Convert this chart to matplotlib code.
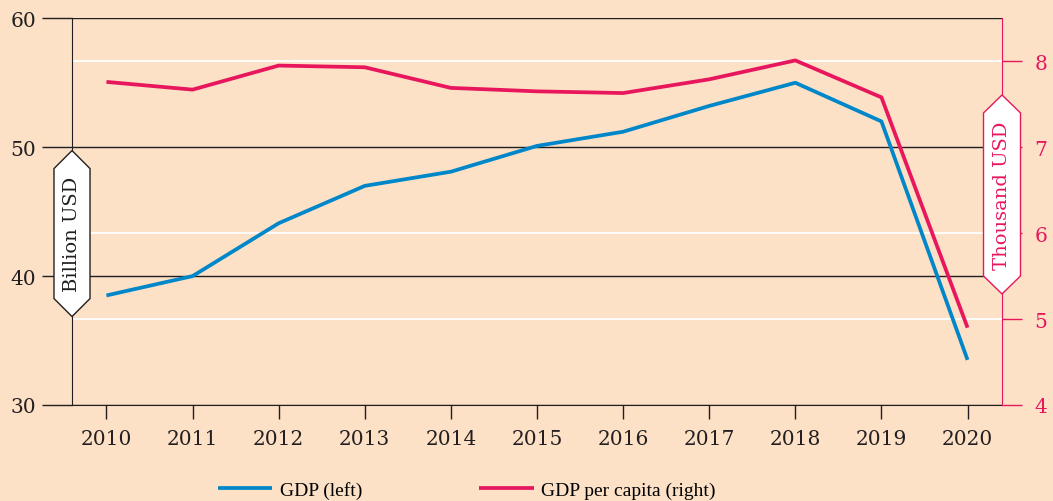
import matplotlib
matplotlib.use("Agg")
import matplotlib.pyplot as plt
import matplotlib.transforms as mtransforms
from matplotlib.patches import Polygon
from matplotlib.lines import Line2D

years = [2010, 2011, 2012, 2013, 2014, 2015, 2016, 2017, 2018, 2019, 2020]
gdp = [38.5, 40.0, 44.1, 47.0, 48.1, 50.1, 51.2, 53.2, 55.0, 52.0, 33.5]
gdp_per_capita = [7.76, 7.67, 7.95, 7.93, 7.69, 7.65, 7.63, 7.79, 8.01, 7.58, 4.90]
left_ticks = [30, 40, 50, 60]
right_ticks = [4, 5, 6, 7, 8]
white_lines = [5, 6, 8]

BG = "#fce1c6"
BLUE = "#0087c9"
PINK = "#e8175d"
INK = "#231f20"

plt.rcParams["font.family"] = ["DejaVu Serif"]
TICK_FS = 14.5

W, H = 1053, 502
fig = plt.figure(figsize=(W / 100, H / 100), dpi=100, facecolor=BG)
ax = fig.add_axes([72 / W, 1 - 406 / H, 930 / W, 386.7 / H])
ax.set_facecolor(BG)
ax2 = ax.twinx()

# right-axis white guide lines, drawn behind the data
blend2 = mtransforms.blended_transform_factory(ax.transAxes, ax2.transData)
for v in white_lines:
    ax.add_line(Line2D([0, 1], [v, v], transform=blend2, color="white", lw=1.3, zorder=0.5))

l1, = ax.plot(years, gdp, color=BLUE, lw=2.7, solid_capstyle="butt", zorder=3, label="GDP (left)")
l2, = ax2.plot(years, gdp_per_capita, color=PINK, lw=2.7, solid_capstyle="butt", zorder=3,
               label="GDP per capita (right)")

ax.set_xlim(2009.6, 2020.4)
ax.set_ylim(30, 60)
ax2.set_ylim(4, 8.5)

ax.set_xticks(years)
ax.set_yticks(left_ticks)
ax2.set_yticks(right_ticks)

ax.grid(axis="y", color=INK, lw=1)
ax.set_axisbelow(True)
ax.tick_params(axis="y", length=21.6, width=1, color=INK, pad=4, labelsize=TICK_FS, labelcolor=INK)
ax.tick_params(axis="x", length=10, width=1, color=INK, pad=7.5, labelsize=TICK_FS, labelcolor=INK)
ax2.tick_params(axis="y", length=14.4, width=1, color=PINK, pad=9, labelsize=TICK_FS, labelcolor=PINK)

for s in ["top", "right"]:
    ax.spines[s].set_visible(False)
ax.spines["left"].set_color(INK)
ax.spines["bottom"].set_color(INK)
for s in ["top", "left", "bottom"]:
    ax2.spines[s].set_visible(False)
ax2.spines["right"].set_color(PINK)


def tag(axis_x, yval, yax, w, h, tip, text, edge, color):
    trans = mtransforms.blended_transform_factory(ax.transAxes, yax.transData)
    shift = mtransforms.ScaledTranslation(axis_x, yval, trans)
    verts = [(0, h / 2), (w / 2, h / 2 - tip), (w / 2, -h / 2 + tip),
             (0, -h / 2), (-w / 2, -h / 2 + tip), (-w / 2, h / 2 - tip)]
    poly = Polygon(verts, closed=True, transform=mtransforms.Affine2D() + shift,
                   facecolor="white", edgecolor=edge, lw=1, zorder=5)
    fig.add_artist(poly)
    fig.text(axis_x, yval, text, transform=trans, rotation=90, ha="center", va="center",
             fontsize=14, color=color, zorder=6)


tag(0, 43.3, ax, 36, 166, 18, "Billion USD", INK, INK)
tag(1, 6.45, ax2, 37, 199, 18, "Thousand USD", PINK, PINK)

fig.legend([l1, l2], [l1.get_label(), l2.get_label()], loc="lower left",
           bbox_to_anchor=(216 / W, 0.0), ncol=2, frameon=False,
           prop={"family": "Liberation Serif", "size": 14},
           handlelength=2.8, handletextpad=0.4, columnspacing=6.0,
           borderpad=0.1, borderaxespad=0)

fig.savefig("out.png", dpi=100, facecolor=BG)
